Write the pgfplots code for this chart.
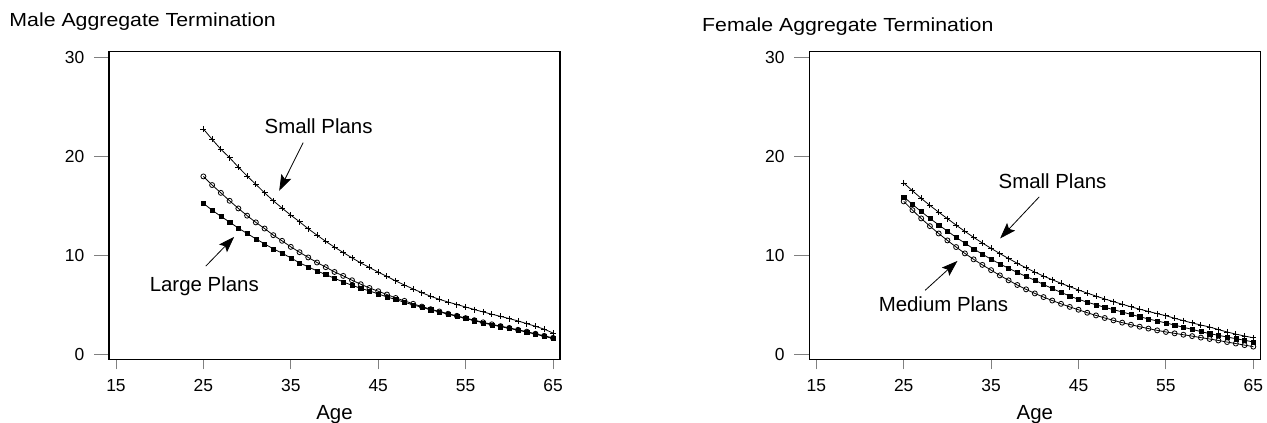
\documentclass[border=0pt]{standalone}
\usepackage{fontspec}
\setmainfont{Liberation Sans}
\newfontfamily\titlefont[FakeStretch=1.125]{Liberation Sans}
\usepackage{pgfplots}
\usepackage{pgfplotstable}
\pgfplotsset{compat=1.18}
\usetikzlibrary{arrows.meta}

% Aggregate termination rates (%) by age and plan size
\pgfplotstableread{
age small medium large
25 22.75 17.96 15.24
26 21.70 17.09 14.55
27 20.70 16.30 13.93
28 19.85 15.50 13.35
29 18.90 14.73 12.74
30 18.00 14.00 12.20
31 17.16 13.32 11.66
32 16.30 12.70 11.15
33 15.50 12.03 10.65
34 14.76 11.46 10.21
35 14.05 10.85 9.74
36 13.38 10.31 9.23
37 12.67 9.78 8.83
38 12.03 9.27 8.42
39 11.40 8.80 8.05
40 10.82 8.32 7.68
41 10.28 7.92 7.31
42 9.74 7.48 6.97
43 9.23 7.08 6.67
44 8.77 6.70 6.40
45 8.30 6.37 6.10
46 7.86 6.04 5.80
47 7.41 5.69 5.53
48 7.00 5.40 5.26
49 6.60 5.10 4.99
50 6.22 4.82 4.75
51 5.86 4.56 4.50
52 5.55 4.33 4.28
53 5.28 4.10 4.05
54 5.03 3.89 3.84
55 4.78 3.66 3.61
56 4.52 3.45 3.40
57 4.28 3.23 3.18
58 4.05 3.03 2.98
59 3.83 2.85 2.80
60 3.61 2.67 2.62
61 3.37 2.48 2.43
62 3.10 2.29 2.24
63 2.83 2.08 2.03
64 2.54 1.87 1.82
65 2.15 1.66 1.60
}\maletable

\pgfplotstableread{
age small medium large
25 17.30 15.44 15.90
26 16.51 14.56 15.14
27 15.75 13.72 14.41
28 15.03 12.94 13.72
29 14.35 12.20 13.07
30 13.70 11.50 12.44
31 13.04 10.83 11.81
32 12.41 10.19 11.22
33 11.81 9.59 10.65
34 11.24 9.03 10.11
35 10.70 8.50 9.60
36 10.17 7.97 9.13
37 9.67 7.47 8.69
38 9.19 7.00 8.27
39 8.73 6.56 7.86
40 8.30 6.15 7.48
41 7.90 5.78 7.05
42 7.53 5.43 6.64
43 7.17 5.10 6.25
44 6.83 4.79 5.89
45 6.50 4.50 5.55
46 6.18 4.20 5.27
47 5.88 3.93 5.00
48 5.59 3.67 4.75
49 5.32 3.43 4.51
50 5.06 3.20 4.28
51 4.80 2.99 4.03
52 4.56 2.79 3.80
53 4.33 2.60 3.57
54 4.11 2.42 3.37
55 3.90 2.26 3.17
56 3.64 2.12 2.95
57 3.40 1.98 2.73
58 3.17 1.84 2.52
59 2.96 1.69 2.30
60 2.76 1.55 2.09
61 2.50 1.40 1.92
62 2.26 1.24 1.75
63 2.04 1.09 1.58
64 1.85 0.93 1.42
65 1.67 0.78 1.25
}\femaletable

\tikzset{
  planlabel/.style={font=\fontsize{20.5}{20.5}\selectfont, inner sep=0pt, anchor=base},
  planarrow/.style={line width=0.8bp, -{Stealth[length=16bp, width=11bp, inset=3bp]}},
}

\pgfplotsset{
  termpanel/.style={
    scale only axis, width=451bp, height=307.6bp,
    anchor=south west,
    xmin=14.2, xmax=65.8, ymin=-0.5, ymax=30.55,
    xtick={15,25,35,45,55,65}, ytick={0,10,20,30},
    axis line style={line width=1.1bp},
    tick align=outside, tick pos=left,
    major tick length=10bp,
    ytick style={line width=0.9bp, /pgfplots/major tick length=15bp},
    xtick style={line width=0.9bp},
    /pgf/number format/assume math mode=true,
    tick label style={font=\fontsize{17.5}{17.5}\selectfont, inner sep=0pt},
    yticklabel style={anchor=east, xshift=-14.5bp},
    xticklabel style={anchor=north, yshift=-10bp},
    xlabel={Age},
    xlabel style={font=\fontsize{20.5}{20.5}\selectfont, inner sep=0pt,
      at={(axis description cs:0.5,0)}, anchor=base, yshift=-60bp},
    every axis plot/.append style={line width=0.8bp, black},
  },
  smallplan/.style={mark=+, mark size=3bp, mark options={line width=0.9bp}},
  mediumplan/.style={mark=o, mark size=2.5bp, mark options={line width=0.8bp}},
  largeplan/.style={mark=square*, mark size=2.1bp, mark options={line width=0.4bp}},
}

\begin{document}
\begin{tikzpicture}
\path[use as bounding box] (0,0) rectangle (1267bp,423bp);

\node[anchor=base west, inner sep=0pt, font=\titlefont\fontsize{19}{19}\selectfont]
  at (9.3bp,396.3bp) {Male Aggregate Termination};
\node[anchor=base west, inner sep=0pt, font=\titlefont\fontsize{19}{19}\selectfont]
  at (702bp,391.3bp) {Female Aggregate Termination};

% Male panel
\begin{axis}[termpanel, at={(109bp,63.7bp)}]
  \addplot[mediumplan] table[x=age, y=medium] {\maletable};
  \addplot[largeplan] table[x=age, y=large] {\maletable};
  \addplot[smallplan] table[x=age, y=small] {\maletable};
  \node[planlabel] at (axis cs:38.18,22.32) {Small Plans};
  \draw[planarrow] (axis cs:36.42,21.37) -- (axis cs:33.67,16.51);
  \node[planlabel] at (axis cs:25.1,6.3) {Large Plans};
  \draw[planarrow] (axis cs:25.27,8.9) -- (axis cs:28.52,11.86);
\end{axis}

% Female panel
\begin{axis}[termpanel, at={(809.3bp,63.7bp)}]
  \addplot[mediumplan] table[x=age, y=medium] {\femaletable};
  \addplot[largeplan] table[x=age, y=large] {\femaletable};
  \addplot[smallplan] table[x=age, y=small] {\femaletable};
  \node[planlabel] at (axis cs:42.03,16.75) {Small Plans};
  \draw[planarrow] (axis cs:40.51,15.9) -- (axis cs:36.03,11.7);
  \node[planlabel] at (axis cs:29.55,4.28) {Medium Plans};
  \draw[planarrow] (axis cs:27.46,6.47) -- (axis cs:31.15,9.43);
\end{axis}
\end{tikzpicture}
\end{document}
